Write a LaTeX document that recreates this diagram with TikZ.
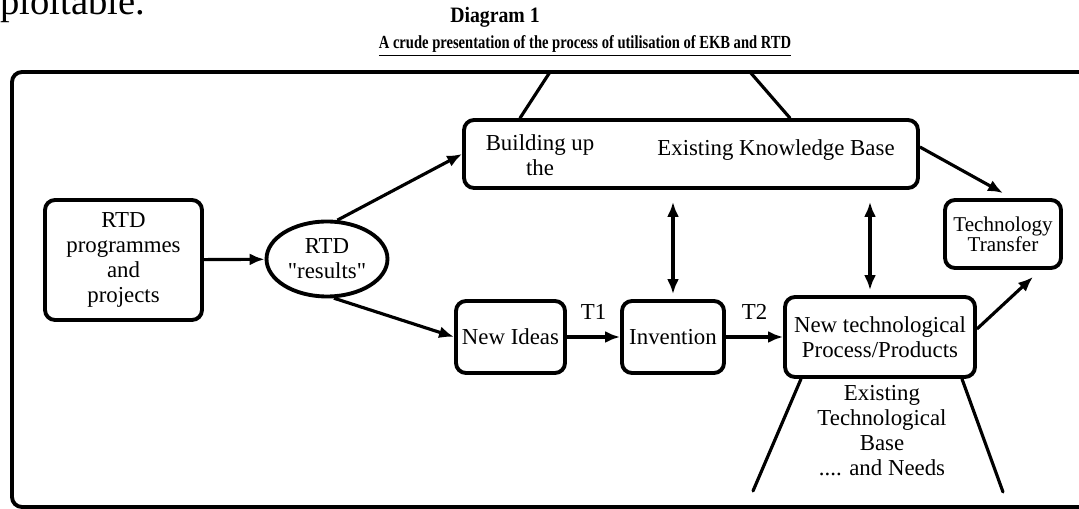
\documentclass[tikz,border=0pt]{standalone}
\usepackage{fontspec}
\setmainfont{Liberation Serif}[Ligatures=TeXOff]
\usepackage{graphicx}
\usetikzlibrary{arrows.meta,shapes.geometric}

\begin{document}
\begin{tikzpicture}[x=0.02cm,y=-0.02cm,
    txt/.style={inner sep=0pt,align=center,font=\fontsize{13}{14.2}\selectfont},
    box/.style={txt,draw,line width=2.2pt,rounded corners=0.2cm},
    link/.style={line width=1.8pt,-{Latex[length=0.3cm,width=0.24cm]}},
    twoway/.style={line width=1.8pt,{Latex[length=0.3cm,width=0.24cm]}-{Latex[length=0.3cm,width=0.24cm]}},
    leg/.style={line width=1.8pt,line cap=round}]
  \useasboundingbox (0,0) rectangle (1079,509);

  % Draw heading
  \node[anchor=base west,inner sep=0pt,font=\fontsize{22}{24}\selectfont] (prev) at (0,15) {ploitable.};
  \node[inner sep=0pt,font=\bfseries\fontsize{12.5}{14}\selectfont] (dnum) at (495,17) {\scalebox{0.9}[1]{Diagram 1}};
  \node[inner sep=0pt,font=\bfseries\fontsize{10.5}{12}\selectfont] (dtitle) at (585,46)
    {\scalebox{0.79}[1]{\underline{A crude presentation of the process of utilisation of EKB and RTD}}};

  % Draw frame
  \draw[line width=2.2pt,rounded corners=0.2cm] (1090,72) -- (12,72) -- (12,507) -- (1090,507);

  % Draw boxes
  \node[box,minimum width=3.14cm,minimum height=2.4cm] (rtd) at (123.5,260) {RTD\\programmes\\and\\projects};
  \node[txt,draw,ellipse,line width=2.2pt,minimum width=2.42cm,minimum height=1.5cm] (res) at (327,259) {RTD\\"results"};
  \node[box,minimum width=9.08cm,minimum height=1.36cm] (ekb) at (691,154) {};
  \node[txt] (ekbl) at (540,155) {Building up\\the};
  \node[txt] (ekbr) at (776,150) {Existing Knowledge Base};
  \node[box,minimum width=2.18cm,minimum height=1.44cm] (ideas) at (510.5,337) {New Ideas};
  \node[box,minimum width=2.04cm,minimum height=1.44cm] (inv) at (673,337) {Invention};
  \node[box,minimum width=3.8cm,minimum height=1.6cm] (nt) at (880,337) {New technological\\Process/Products};
  \node[box,minimum width=2.32cm,minimum height=1.36cm,font=\fontsize{12}{11.5}\selectfont] (tt) at (1003,234) {Technology\\Transfer};
  \node[txt] (etb) at (882,431) {Existing\\Technological\\Base\\.... and Needs};

  % Draw arrows
  \draw[link] (rtd) -- (res);
  \draw[link] (res.75) -- (ekb.west);
  \draw[link] (res.280) -- (ideas.west);
  \draw[link] (ideas) -- node[txt,above=9pt] (t1) {T1} (inv);
  \draw[link] (inv) -- node[txt,above=9pt] (t2) {T2} (nt);
  \draw[link] ([yshift=0.14cm]ekb.east) -- ([yshift=0.1cm]tt.north);
  \draw[link] ([yshift=0.16cm]nt.east) -- ([xshift=0.6cm,yshift=-0.14cm]tt.south);

  % Draw links to the knowledge base
  \coordinate (ib) at (inv.north);
  \coordinate (nb) at ([xshift=-0.2cm]nt.north);
  \foreach \c in {ib,nb}
    \draw[twoway] ([yshift=-0.24cm]\c |- ekb.south) -- ([yshift=0.1cm]\c);

  % Draw legs
  \coordinate (kl) at (550,72);
  \coordinate (kr) at (750,72);
  \coordinate (bl) at (753,491);
  \coordinate (br) at (1003,492);
  \foreach \dx/\c in {-3.42/kl,1.98/kr}
    \draw[leg] (\c) -- ([xshift=\dx cm]ekb.north);
  \foreach \dx/\c in {-1.58/bl,1.64/br}
    \draw[leg] ([xshift=\dx cm]nt.south) -- (\c);
\end{tikzpicture}
\end{document}
